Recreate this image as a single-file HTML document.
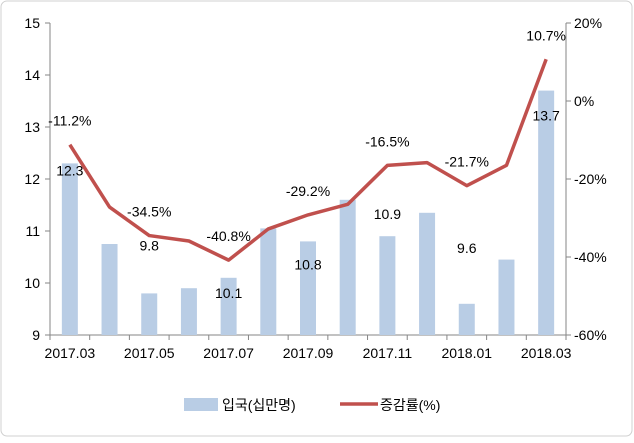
<!DOCTYPE html>
<html><head><meta charset="utf-8"><style>
body{margin:0;background:#fff;}
svg text{font-family:"Liberation Sans","Noto Sans CJK KR",sans-serif;font-size:14px;fill:#000;}
</style></head><body>
<svg width="634" height="438" xmlns="http://www.w3.org/2000/svg">
<rect x="1" y="1" width="631" height="435" rx="6" fill="#fff" stroke="#d0d0d0"/>
<g id="g"></g>
</svg>
<script>
const categories=["2017.03","2017.04","2017.05","2017.06","2017.07","2017.08","2017.09","2017.10","2017.11","2017.12","2018.01","2018.02","2018.03"];
const arrivals=[12.3,10.75,9.8,9.9,10.1,11.05,10.8,11.6,10.9,11.35,9.6,10.45,13.7];
const growth=[-11.2,-27.2,-34.5,-35.9,-40.8,-32.8,-29.2,-26.5,-16.5,-15.8,-21.7,-16.5,10.7];
const leftTicks=[9,10,11,12,13,14,15];
const rightTicks=[-60,-40,-20,0,20];
const barLabelIdx=[0,2,4,6,8,10,12];
const barLabelDy=[7,-48,15,23,-22,-56,25];
const NS="http://www.w3.org/2000/svg";
const g=document.getElementById('g');
const x0=50,x1=566,yT=23,yB=335;
const step=(x1-x0)/categories.length;
const xc=i=>x0+step*(i+0.5);
const yL=v=>yB-(v-9)/6*(yB-yT);
const yR=v=>yB-(v+60)/80*(yB-yT);
function mk(t,a,txt){const e=document.createElementNS(NS,t);for(const k in a)e.setAttribute(k,a[k]);if(txt!=null)e.textContent=txt;g.appendChild(e);return e;}
let e=mk('line',{x1:x0,y1:yT,x2:x0,y2:yB,stroke:'#868686'});

e=mk('line',{x1:x1,y1:yT,x2:x1,y2:yB,stroke:'#868686'});

e=mk('line',{x1:x0,y1:yB,x2:x1,y2:yB,stroke:'#868686'});

leftTicks.forEach(v=>{
 mk('line',{x1:x0-5,y1:yL(v),x2:x0,y2:yL(v),stroke:'#868686'});
 e=mk('text',{x:x0-10,y:yL(v)+5,'text-anchor':'end'},v);
 
});
rightTicks.forEach(v=>{
 mk('line',{x1:x1,y1:yR(v),x2:x1+5,y2:yR(v),stroke:'#868686'});
 e=mk('text',{x:x1+8,y:yR(v)+5},v+'%');
 
});
for(let i=0;i<=categories.length;i++)mk('line',{x1:x0+step*i,y1:yB,x2:x0+step*i,y2:yB+5,stroke:'#868686'});
categories.forEach((c,i)=>{
 if(i%2==0){e=mk('text',{x:xc(i),y:yB+23,'text-anchor':'middle'},c);
 }
});
arrivals.forEach((v,i)=>{
 e=mk('rect',{x:xc(i)-8,y:yL(v),width:16,height:yB-yL(v),fill:'#b9cde5'});
 
});
barLabelIdx.forEach((i,k)=>{
 e=mk('text',{x:xc(i),y:yL(arrivals[i])+barLabelDy[k]+5,'text-anchor':'middle'},arrivals[i].toFixed(1));
 
});
e=mk('polyline',{points:growth.map((v,i)=>xc(i)+','+yR(v)).join(' '),fill:'none',stroke:'#c0504d','stroke-width':3.5,'stroke-linejoin':'round'});

barLabelIdx.forEach(i=>{
 e=mk('text',{x:xc(i),y:yR(growth[i])-19,'text-anchor':'middle'},growth[i].toFixed(1)+'%');
 
});
e=mk('rect',{x:184,y:398,width:34,height:13,fill:'#b9cde5'});

e=mk('text',{x:222,y:410},'입국(십만명)');

e=mk('line',{x1:340,y1:404,x2:378,y2:404,stroke:'#c0504d','stroke-width':3.5});

e=mk('text',{x:380,y:410},'증감률(%)');

</script>
</body></html>
